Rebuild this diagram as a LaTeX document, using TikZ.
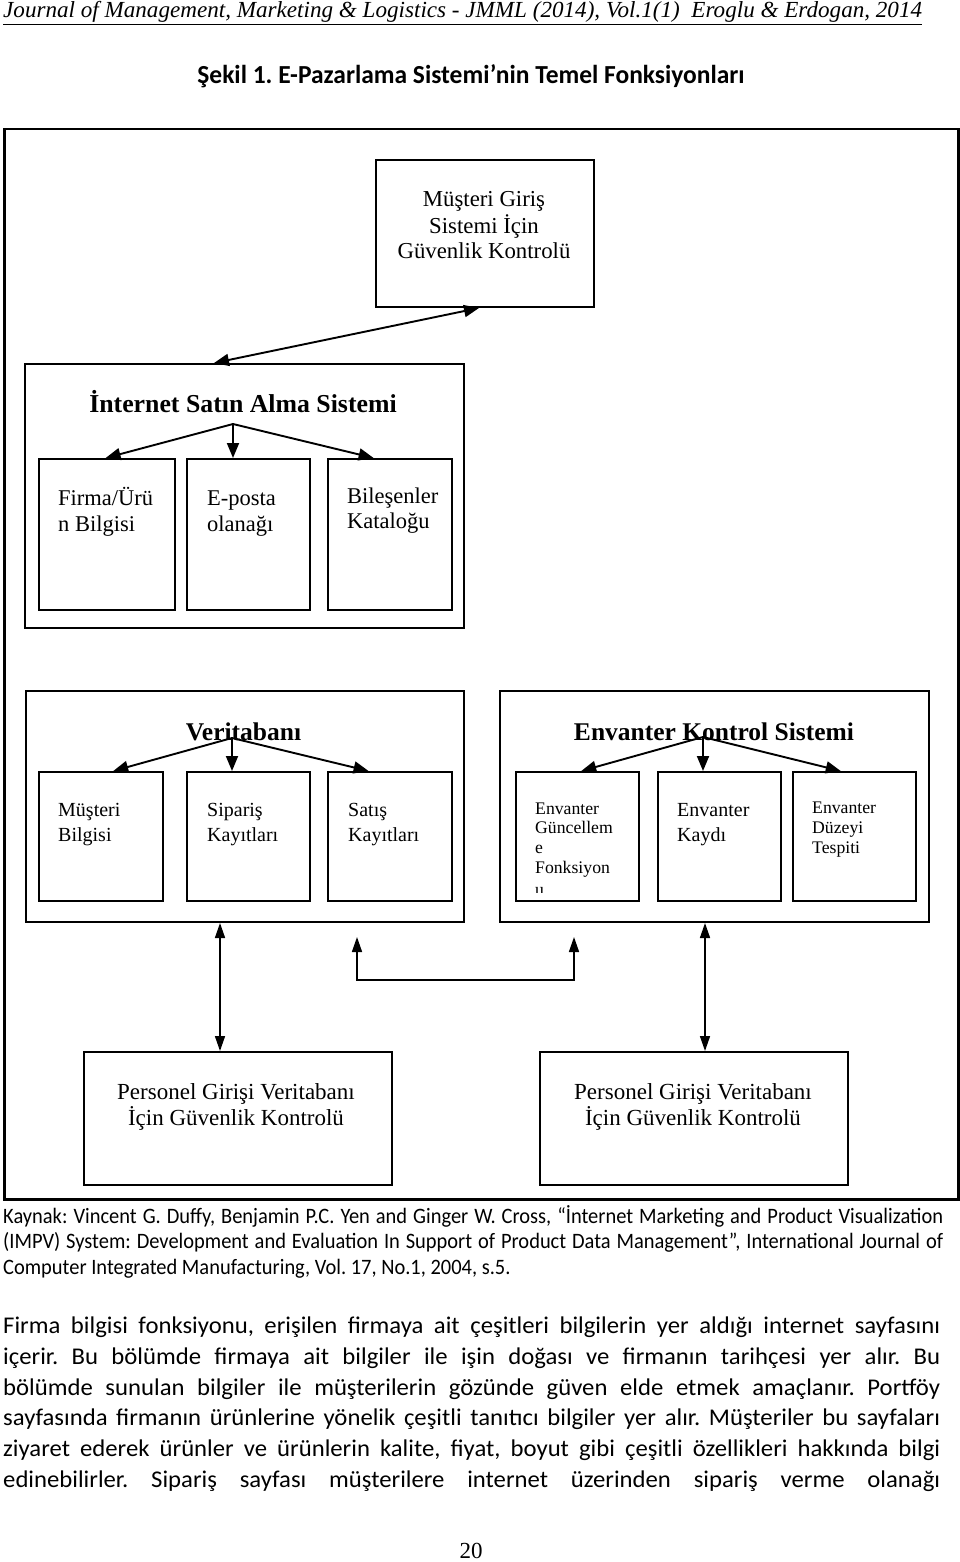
\documentclass[tikz,border=0pt]{standalone}
\usepackage{fontspec}
\setmainfont{Liberation Serif}
\newfontfamily\hdrfont[FakeStretch=1.005]{Liberation Serif}
\newfontfamily\ttlfont[FakeStretch=0.98]{Carlito}
\newfontfamily\bodyfont[FakeStretch=1.03]{Carlito}
\newfontfamily\kayfont[FakeStretch=0.93]{Carlito}
\usetikzlibrary{arrows.meta,calc}
\newcommand\myfs[2]{\fontsize{#1}{#2}\selectfont}
\newcommand\mybox[6][2pt]{\node[box, line width=#1, anchor=north west, minimum width={(#5-#3)*1pt}, minimum height={(#6-#4)*1pt}] (#2) at (#3,#4) {};}
\begin{document}
\frenchspacing
\begin{tikzpicture}[x=1pt,y=-1pt,
  box/.style={draw, rectangle, inner sep=0pt},
  lbl/.style={inner sep=0pt, anchor=base west},
  clbl/.style={inner sep=0pt, anchor=base},
  arr/.style={line width=1.9pt, -{Triangle[length=15pt,width=12pt]}},
  darr/.style={line width=1.9pt, {Triangle[length=15pt,width=12pt]}-{Triangle[length=15pt,width=12pt]}},
  thinarr/.style={line width=1.5pt, {Triangle[length=15pt,width=10pt]}-{Triangle[length=15pt,width=10pt]}}]
\useasboundingbox (0,0) rectangle (960,1562);
\fill[white] (0,0) rectangle (960,1562);

% header and title
\node[lbl] (hdr) at (3,18) {\hdrfont\itshape\myfs{23}{26}\underline{Journal of Management, Marketing \& Logistics - JMML (2014), Vol.1(1)\ \ Eroglu \& Erdogan, 2014}};
\node[clbl] (ttl) at (471,84) {\ttlfont\bfseries\myfs{26}{30}Şekil 1. E-Pazarlama Sistemi’nin Temel Fonksiyonları};

% boxes
\mybox[2.5pt]{outer}{3}{128}{957}{1198}
\mybox{top}{375}{159}{593}{306}
\mybox{isys}{24}{363}{463}{627}
\mybox{f1}{38}{458}{174}{609}
\mybox{f2}{186}{458}{309}{609}
\mybox{f3}{327}{458}{451}{609}
\mybox{vt}{25}{690}{463}{921}
\mybox{v1}{38}{771}{162}{900}
\mybox{v2}{186}{771}{309}{900}
\mybox{v3}{327}{771}{451}{900}
\mybox{ek}{499}{690}{928}{921}
\mybox{e1}{515}{771}{638}{900}
\mybox{e2}{657}{771}{780}{900}
\mybox{e3}{792}{771}{915}{900}
\mybox{p1}{83}{1051}{391}{1184}
\mybox{p2}{539}{1051}{847}{1184}

% texts in boxes
\node[clbl] (ttop) at (484,207) {\myfs{22.8}{25.5}\begin{tabular}[t]{@{}c@{}}Müşteri Giriş\\Sistemi İçin\\Güvenlik Kontrolü\end{tabular}};
\node[clbl] (tisys) at (243,412) {\myfs{25.8}{30}\bfseries İnternet Satın Alma Sistemi};
\node[lbl] (tf1) at (58,505) {\myfs{22.5}{26}\begin{tabular}[t]{@{}l@{}}Firma/Ürü\\n Bilgisi\end{tabular}};
\node[lbl] (tf2) at (207,505) {\myfs{22.5}{26}\begin{tabular}[t]{@{}l@{}}E-posta\\olanağı\end{tabular}};
\node[lbl] (tf3) at (347,503) {\myfs{22.5}{25}\begin{tabular}[t]{@{}l@{}}Bileşenler\\Kataloğu\end{tabular}};

\node[clbl] (tvt) at (243.5,740) {\myfs{25.5}{30}\bfseries Veritabanı};
\node[lbl] (tv1) at (58,816) {\myfs{20}{25}\begin{tabular}[t]{@{}l@{}}Müşteri\\Bilgisi\end{tabular}};
\node[lbl] (tv2) at (207,816) {\myfs{20}{25}\begin{tabular}[t]{@{}l@{}}Sipariş\\Kayıtları\end{tabular}};
\node[lbl] (tv3) at (348,816) {\myfs{20}{25}\begin{tabular}[t]{@{}l@{}}Satış\\Kayıtları\end{tabular}};

\node[clbl] (tek) at (714,740) {\myfs{25.5}{30}\bfseries Envanter Kontrol Sistemi};
\node[lbl] (te1) at (535,814) {\myfs{17.7}{19.7}\begin{tabular}[t]{@{}l@{}}Envanter\\Güncellem\\e\\Fonksiyon\end{tabular}};
\begin{scope}
\clip (530,886) rectangle (560,892);
\node[lbl] (te1u) at (535,895) {\myfs{17.7}{19.7}u};
\end{scope}
\node[lbl] (te2) at (677,816) {\myfs{20}{25}\begin{tabular}[t]{@{}l@{}}Envanter\\Kaydı\end{tabular}};
\node[lbl] (te3) at (812,813) {\myfs{17.7}{20}\begin{tabular}[t]{@{}l@{}}Envanter\\Düzeyi\\Tespiti\end{tabular}};

\node[clbl] (tp1) at (236,1099) {\myfs{23}{26}\begin{tabular}[t]{@{}c@{}}Personel Girişi Veritabanı\\İçin Güvenlik Kontrolü\end{tabular}};
\node[clbl] (tp2) at (693,1099) {\myfs{23}{26}\begin{tabular}[t]{@{}c@{}}Personel Girişi Veritabanı\\İçin Güvenlik Kontrolü\end{tabular}};

% connectors
\draw[darr] ([xshift=-30.5pt]isys.north) -- ([xshift=-6pt]top.south);

\coordinate (io) at (233,424);
\draw[arr] (io) -- ($(f1.north west)!0.49!(f1.north east)$);
\draw[arr] (io) -- (io |- f2.north);
\draw[arr] (io) -- ($(f3.north west)!0.37!(f3.north east)$);

\coordinate (vo) at (232,738);
\draw[arr] (vo) -- ($(v1.north west)!0.597!(v1.north east)$);
\draw[arr] (vo) -- (vo |- v2.north);
\draw[arr] (vo) -- ($(v3.north west)!0.33!(v3.north east)$);

\coordinate (eo) at (703,737);
\draw[arr] (eo) -- ($(e1.north west)!0.53!(e1.north east)$);
\draw[arr] (eo) -- (eo |- e2.north);
\draw[arr] (eo) -- ($(e3.north west)!0.39!(e3.north east)$);

\draw[thinarr] ([xshift=-25pt]vt.south) -- ([xshift=-25pt]vt.south |- p1.north);
\draw[thinarr] ([xshift=-9.5pt]ek.south) -- ([xshift=-9.5pt]ek.south |- p2.north);

\coordinate (u1) at (357,937);
\coordinate (u2) at (574,937);
\draw[thinarr] (u1) -- ++(0,43) -| (u2);

% source
\node[lbl] (k1) at (3,1223) {\kayfont\myfs{22}{25}\makebox[940pt][s]{Kaynak: Vincent G. Duffy, Benjamin P.C. Yen and Ginger W. Cross, “İnternet Marketing and Product Visualization}};
\node[lbl] (k2) at (3,1248.5) {\kayfont\myfs{22}{25}\makebox[940pt][s]{(IMPV) System: Development and Evaluation In Support of Product Data Management”, International Journal of}};
\node[lbl] (k3) at (3,1274) {\kayfont\myfs{22}{25}Computer Integrated Manufacturing, Vol. 17, No.1, 2004, s.5.};

% body
\node[lbl] (b1) at (3,1333) {\bodyfont\myfs{24}{28}\makebox[937pt][s]{Firma bilgisi fonksiyonu, erişilen firmaya ait çeşitleri bilgilerin yer aldığı internet sayfasını}};
\node[lbl] (b2) at (3,1364) {\bodyfont\myfs{24}{28}\makebox[937pt][s]{içerir. Bu bölümde firmaya ait bilgiler ile işin doğası ve firmanın tarihçesi yer alır. Bu}};
\node[lbl] (b3) at (3,1395) {\bodyfont\myfs{24}{28}\makebox[937pt][s]{bölümde sunulan bilgiler ile müşterilerin gözünde güven elde etmek amaçlanır. Portföy}};
\node[lbl] (b4) at (3,1425) {\bodyfont\myfs{24}{28}\makebox[937pt][s]{sayfasında firmanın ürünlerine yönelik çeşitli tanıtıcı bilgiler yer alır. Müşteriler bu sayfaları}};
\node[lbl] (b5) at (3,1456) {\bodyfont\myfs{24}{28}\makebox[937pt][s]{ziyaret ederek ürünler ve ürünlerin kalite, fiyat, boyut gibi çeşitli özellikleri hakkında bilgi}};
\node[lbl] (b6) at (3,1487) {\bodyfont\myfs{24}{28}\makebox[937pt][s]{edinebilirler. Sipariş sayfası müşterilere internet üzerinden sipariş verme olanağı}};

\node[clbl] (pg) at (471,1558) {\myfs{23}{26}20};
\end{tikzpicture}
\end{document}
